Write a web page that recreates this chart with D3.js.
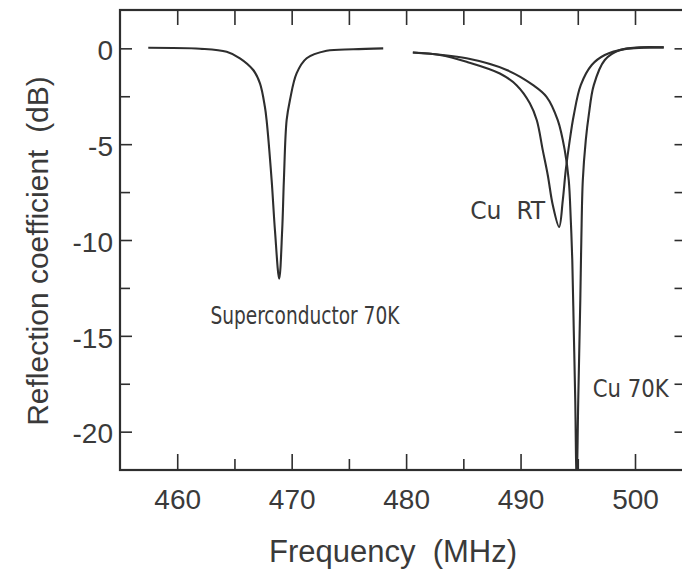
<!DOCTYPE html>
<html>
<head>
<meta charset="utf-8">
<script src="https://cdn.jsdelivr.net/npm/d3@7"></script>
<style>
  html, body { margin: 0; padding: 0; background: #fff; }
  svg { display: block; }
  text { font-family: "Liberation Sans", Arial, Helvetica, sans-serif; fill: #3a3a3a; }
  .narrow { font-family: "Liberation Sans Narrow", "Arial Narrow", "DejaVu Sans Condensed", "Liberation Sans", sans-serif; white-space: pre; }
</style>
</head>
<body>
<script>
// ---------------- data ----------------
const superFreq = [457.47, 461.99, 464.32, 465.48, 466.64, 467.23, 467.66, 467.81, 468.25, 468.54, 468.91, 469.17, 469.32, 469.56, 469.85, 470.43, 471.31, 473.05, 475.38, 478.0];
const superDb   = [0.03, -0.02, -0.18, -0.52, -1.13, -1.83, -3.05, -3.75, -6.88, -9.5, -12.02, -9.5, -6.88, -3.75, -2.7, -1.31, -0.52, -0.13, -0.05, 0];

const rtFreq = [480.59, 482.95, 485.28, 488.19, 489.65, 490.81, 491.42, 491.94, 492.38, 492.82, 493.37, 493.69, 493.95, 494.30, 494.65, 495.26, 496.22, 497.36, 499.10, 502.51];
const rtDb   = [-0.22, -0.35, -0.70, -1.31, -1.92, -2.86, -3.75, -5.31, -6.62, -8.19, -9.32, -7.93, -6.36, -4.79, -3.49, -1.92, -0.87, -0.35, -0.04, 0.05];

const k70Freq = [480.59, 485.28, 488.79, 491.10, 492.27, 493.25, 493.86, 494.21, 494.39, 494.52, 494.65, 494.78, 494.90, 495.04, 495.22, 495.31, 495.44, 495.70, 495.96, 496.40, 497.36, 498.67, 500.41, 502.51];
const k70Db   = [-0.22, -0.52, -1.13, -1.92, -2.53, -3.75, -5.31, -6.88, -8.97, -11.06, -14.72, -18.38, -23.0, -18.38, -13.15, -10.02, -6.88, -4.79, -3.49, -1.92, -0.61, -0.09, 0.05, 0.05];

const xMajorTicks = [460, 470, 480, 490, 500];
const xMinorTicks = [465, 475, 485, 495];
const xTopTicks = [460, 465, 470, 475, 480, 485, 490, 495, 500];
const yMajorTicks = [0, -5, -10, -15, -20];
const yMinorTicks = [-2.5, -7.5, -12.5, -17.5];
const yRightTicks = [0, -2.5, -5, -7.5, -10, -12.5, -15, -17.5, -20];

const labels = [
  { text: "Superconductor 70K", f: 462.9, db: -14.4, len: 189 },
  { text: "Cu  RT", f: 485.6, db: -8.92, len: 75 },
  { text: "Cu 70K", f: 496.3, db: -18.2, len: 76 }
];

// ---------------- layout ----------------
const W = 682, H = 573;
const L = 120, R = 686.5, T = 10, B = 470;

const svg = d3.select("body").append("svg").attr("width", W).attr("height", H);

const x = d3.scaleLinear().domain([455, 504.5]).range([L, R]);
const y = d3.scaleLinear().domain([-22, 2]).range([B, T]);

const ink = "#2e2e2e";
const fmt = d => String(d);   // plain hyphen-minus as in the original

svg.append("defs").append("clipPath").attr("id", "plotclip")
  .append("rect").attr("x", L).attr("y", T).attr("width", R - L).attr("height", B - T);

function styleAxis(g, w) {
  g.select(".domain").remove();
  g.selectAll(".tick line").attr("stroke", ink).attr("stroke-width", w);
}

// bottom major
svg.append("g").attr("transform", `translate(0,${B})`)
  .call(d3.axisBottom(x).tickValues(xMajorTicks).tickSize(-16).tickPadding(19).tickFormat(fmt))
  .call(g => styleAxis(g, 1.6))
  .call(g => g.selectAll("text").attr("font-size", 28).attr("fill", "#3a3a3a")
        .style("font-family", '"Liberation Sans", Arial, sans-serif'));
// bottom minor
svg.append("g").attr("transform", `translate(0,${B})`)
  .call(d3.axisBottom(x).tickValues(xMinorTicks).tickSize(-11).tickFormat(""))
  .call(g => styleAxis(g, 1.6));
// top
svg.append("g").attr("transform", `translate(0,${T})`)
  .call(d3.axisTop(x).tickValues(xTopTicks).tickSize(-15).tickFormat(""))
  .call(g => styleAxis(g, 1.6));
// left major
svg.append("g").attr("transform", `translate(${L},0)`)
  .call(d3.axisLeft(y).tickValues(yMajorTicks).tickSize(-12).tickPadding(7).tickFormat(fmt))
  .call(g => styleAxis(g, 1.6))
  .call(g => g.selectAll("text").attr("font-size", 28).attr("dy", "0.4em").attr("fill", "#3a3a3a")
        .style("font-family", '"Liberation Sans", Arial, sans-serif'));
// left minor
svg.append("g").attr("transform", `translate(${L},0)`)
  .call(d3.axisLeft(y).tickValues(yMinorTicks).tickSize(-10).tickFormat(""))
  .call(g => styleAxis(g, 1.6));
// right
svg.append("g").attr("transform", `translate(${R},0)`)
  .call(d3.axisRight(y).tickValues(yRightTicks).tickSize(-12).tickFormat(""))
  .call(g => styleAxis(g, 1.6));

// frame
svg.append("rect").attr("x", L).attr("y", T).attr("width", R - L).attr("height", B - T)
  .attr("fill", "none").attr("stroke", ink).attr("stroke-width", 2.2);

// curves
const line = d3.line().x(d => x(d[0])).y(d => y(d[1])).curve(d3.curveCatmullRom.alpha(0.5));
const series = [
  d3.zip(superFreq, superDb),
  d3.zip(rtFreq, rtDb),
  d3.zip(k70Freq, k70Db)
];
svg.append("g").attr("clip-path", "url(#plotclip)")
  .selectAll("path").data(series).join("path")
  .attr("d", line)
  .attr("fill", "none").attr("stroke", ink).attr("stroke-width", 2.1)
  .attr("stroke-linejoin", "round");

// annotations
svg.append("g").selectAll("text").data(labels).join("text")
  .attr("class", "narrow")
  .attr("x", d => x(d.f)).attr("y", d => y(d.db))
  .attr("font-size", 25)
  .attr("textLength", d => d.len).attr("lengthAdjust", "spacingAndGlyphs")
  .text(d => d.text);

// axis titles
svg.append("text").attr("x", 393).attr("y", 562)
  .attr("text-anchor", "middle").attr("font-size", 31).style("white-space", "pre")
  .text("Frequency  (MHz)");
svg.append("text").attr("transform", "translate(48,251) rotate(-90)")
  .attr("text-anchor", "middle").attr("font-size", 30).style("white-space", "pre")
  .text("Reflection coefficient  (dB)");
</script>
</body>
</html>
